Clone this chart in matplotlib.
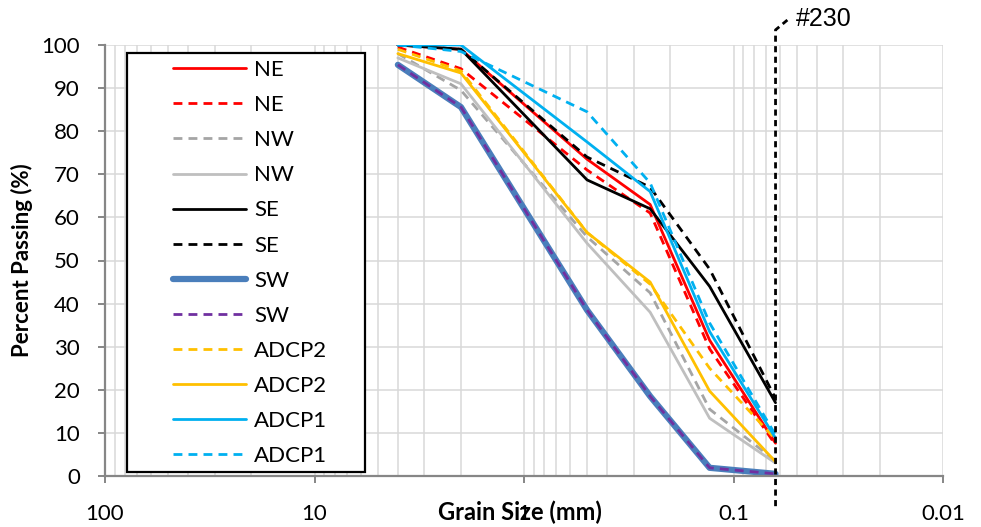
"""Grain size distribution curves (percent passing vs grain size)."""

import matplotlib

matplotlib.use("Agg")
import matplotlib.pyplot as plt
from matplotlib.patches import Rectangle
from matplotlib.ticker import FixedLocator, FixedFormatter, LogLocator, NullFormatter

# sieve sizes (mm)
grain_mm = [4.0, 2.0, 0.5, 0.25, 0.13, 0.063]

ne_solid = [100, 99, 73.5, 63, 31.5, 7.6]
ne_dash = [99.5, 94.5, 71, 61, 29.5, 7.2]
nw_dash = [98, 89.5, 55.5, 42.5, 15.5, 3.5]
nw_solid = [97, 91, 54, 38, 13.4, 3.0]
se_solid = [100, 99, 68.7, 62, 44, 17]
se_dash = [100, 99, 74, 67, 48, 18]
sw_solid = [95.4, 85.6, 38.5, 18.5, 1.9, 0.5]
sw_dash = [95.4, 85.6, 38.5, 18.5, 1.9, 0.5]
adcp2_dash = [99, 94, 56.5, 44.5, 25, 8.5]
adcp2_solid = [98, 93.5, 56.5, 45, 19.7, 3.3]
adcp1_solid = [100, 100, 77.5, 66, 33.5, 8.8]
adcp1_dash = [100, 98.5, 84.5, 68, 35.5, 9.5]

x_ticks = [100, 10, 1, 0.1, 0.01]
x_tick_labels = ["100", "10", "1", "0.1", "0.01"]
y_ticks = list(range(0, 101, 10))

sieve_230 = 0.063

FONT = ["Lato", "DejaVu Sans"]
plt.rcParams["font.family"] = FONT

series = [
    ("NE", ne_solid, "#FF0000", "-", 2.0),
    ("NE", ne_dash, "#FF0000", "--", 2.0),
    ("NW", nw_dash, "#A5A5A5", "--", 2.0),
    ("NW", nw_solid, "#BFBFBF", "-", 2.0),
    ("SE", se_solid, "#000000", "-", 2.0),
    ("SE", se_dash, "#000000", "--", 2.0),
    ("SW", sw_solid, "#4A7EBB", "-", 4.5),
    ("SW", sw_dash, "#7030A0", "--", 2.0),
    ("ADCP2", adcp2_dash, "#FFC000", "--", 2.0),
    ("ADCP2", adcp2_solid, "#FFC000", "-", 2.0),
    ("ADCP1", adcp1_solid, "#00B0F0", "-", 2.0),
    ("ADCP1", adcp1_dash, "#00B0F0", "--", 2.0),
]

fig = plt.figure(figsize=(9.81, 5.27), dpi=100)
ax = fig.add_axes([105 / 981, 1 - 476 / 527, 838 / 981, 431 / 527])

for label, values, color, style, width in series:
    line, = ax.plot(grain_mm, values, color=color, linestyle=style, linewidth=width,
                    label=label, solid_capstyle="round", dash_capstyle="butt")
    if style == "--":
        line.set_dashes((3.2, 2.2))

ax.set_xscale("log")
ax.set_xlim(100, 0.01)
ax.set_ylim(0, 100)

ax.xaxis.set_major_locator(FixedLocator(x_ticks))
ax.xaxis.set_major_formatter(FixedFormatter(x_tick_labels))
ax.xaxis.set_minor_locator(LogLocator(base=10, subs=range(2, 10)))
ax.xaxis.set_minor_formatter(NullFormatter())
ax.set_yticks(y_ticks)

ax.grid(True, which="major", color="#D9D9D9", linewidth=1.1, zorder=0)
ax.grid(True, which="minor", axis="x", color="#D9D9D9", linewidth=1.1, zorder=0)
ax.set_axisbelow(True)

for side in ("top", "right"):
    ax.spines[side].set_visible(False)
for side in ("left", "bottom"):
    ax.spines[side].set_color("#868686")
    ax.spines[side].set_linewidth(1.6)

ax.tick_params(axis="x", which="major", direction="out", length=5, width=1.4,
               color="#868686", pad=15, labelsize=16)
ax.tick_params(axis="x", which="minor", length=0)
ax.tick_params(axis="y", direction="out", length=5, width=1.4,
               color="#868686", pad=13, labelsize=16)

ax.set_ylabel("Percent Passing (%)", fontsize=16, fontweight="bold", labelpad=6)
ax.set_xlabel("Grain Size (mm)", fontsize=17, fontweight="bold", va="center")
ax.xaxis.set_label_coords(0.495, -0.085)

# #230 sieve marker
ax.plot([sieve_230, sieve_230, 0.0553], [-7, 103.5, 105.8], color="black",
        linestyle="--", dashes=(2.2, 1.6), linewidth=2.0, clip_on=False, zorder=6)
ax.text(0.0505, 106.0, "#230", fontsize=18, va="center", ha="left",
        family=["Liberation Sans", "DejaVu Sans"], clip_on=False)

# legend box
box = Rectangle((22 / 838, 4 / 431), 238 / 838, 419 / 431, transform=ax.transAxes,
                facecolor="white", edgecolor="black", linewidth=1.6, zorder=4)
ax.add_patch(box)
leg = ax.legend(loc="upper left", bbox_to_anchor=(68 / 838, (476 - 60) / 431),
                frameon=False, fontsize=16, handlelength=3.3, handletextpad=0.35,
                labelspacing=0.68, borderpad=0, borderaxespad=0)
leg.set_zorder(5)

fig.savefig("out.png", dpi=100)
